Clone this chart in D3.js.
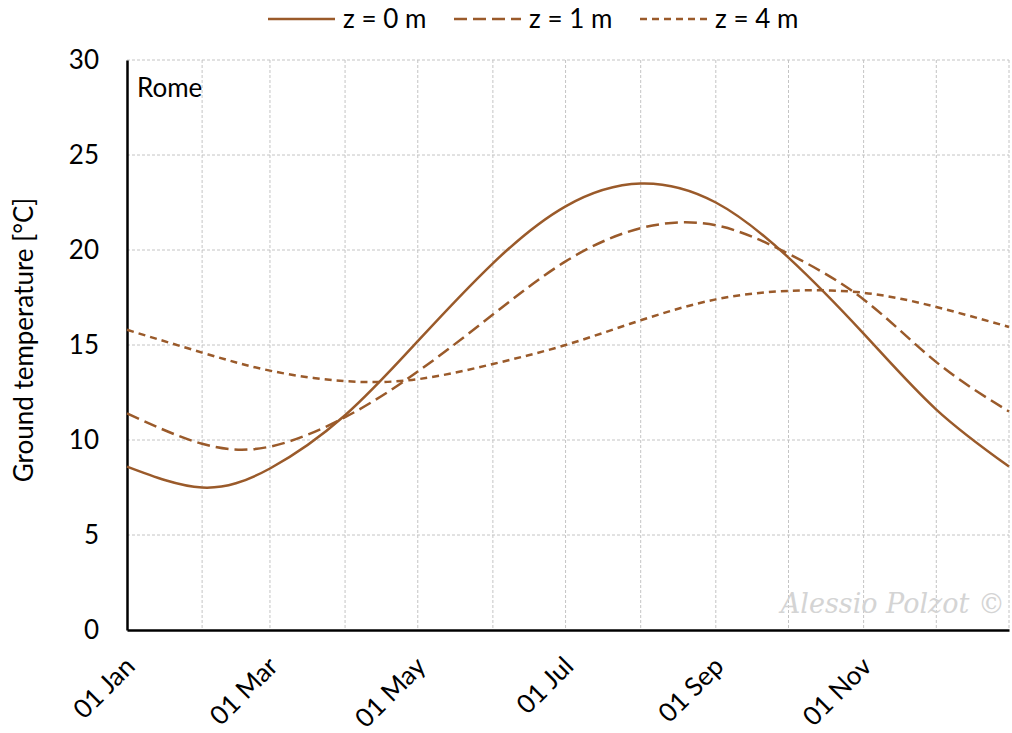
<!DOCTYPE html>
<html>
<head>
<meta charset="utf-8">
<script src="https://cdn.jsdelivr.net/npm/d3@7"></script>
<style>
  body { margin: 0; background: #fff; }
  text { font-family: Lato, "Noto Sans", sans-serif; fill: #000; }
</style>
</head>
<body>
<div id="chart"></div>
<script>
// sample dates (month starts + year end)
const dates = ["2021-01-01","2021-02-01","2021-03-01","2021-04-01","2021-05-01","2021-06-01",
  "2021-07-01","2021-08-01","2021-09-01","2021-10-01","2021-11-01","2021-12-01","2021-12-31"];
// ground temperature [°C] at depth z
const z0 = [8.6, 7.5, 8.5, 11.3, 15.2, 19.3, 22.3, 23.5, 22.5, 19.6, 15.6, 11.6, 8.6];
const z1 = [11.4, 9.8, 9.65, 11.2, 13.6, 16.6, 19.4, 21.15, 21.3, 19.8, 17.4, 14.1, 11.5];
const z4 = [15.8, 14.6, 13.65, 13.1, 13.2, 14.0, 15.0, 16.3, 17.4, 17.85, 17.75, 17.0, 15.95];
const seriesNames = ["z = 0 m", "z = 1 m", "z = 4 m"];
const yTicks = [0, 5, 10, 15, 20, 25, 30];
const xLabels = ["2021-01-01","2021-03-01","2021-05-01","2021-07-01","2021-09-01","2021-11-01"];

const W = 1012, H = 733;
const m = {left: 127, right: 1009, top: 60, bottom: 630};
const brown = "#9a5a2a";
const dashes = [null, "13,6", "7,5"];
const fs = "26px";

const parse = d3.timeParse("%Y-%m-%d");
const x = d3.scaleTime().domain([parse("2021-01-01"), parse("2021-12-31")]).range([m.left, m.right]);
const y = d3.scaleLinear().domain([0, 30]).range([m.bottom, m.top]);

const svg = d3.select("#chart").append("svg").attr("width", W).attr("height", H);

// grid
const months = d3.timeMonth.range(parse("2021-01-01"), parse("2021-12-02")).concat([parse("2021-12-31")]);
svg.append("g").selectAll("line").data(months.slice(1)).join("line")
  .attr("x1", d => x(d)).attr("x2", d => x(d)).attr("y1", m.top).attr("y2", m.bottom)
  .attr("stroke", "#c4c4c4").attr("stroke-dasharray", "3,2").attr("stroke-width", 1);
svg.append("g").selectAll("line").data(yTicks.slice(1)).join("line")
  .attr("x1", m.left).attr("x2", m.right).attr("y1", d => y(d)).attr("y2", d => y(d))
  .attr("stroke", "#c4c4c4").attr("stroke-dasharray", "3,2").attr("stroke-width", 1);

// watermark
svg.append("text").attr("x", 1005).attr("y", 613).attr("text-anchor", "end")
  .style("font-family", "'DejaVu Serif', serif").style("font-style", "italic")
  .style("font-size", "27px").style("fill", "#d4d4d4").text("Alessio Polzot ©");

// y axis
const yAxis = svg.append("g").attr("transform", `translate(${m.left},0)`)
  .call(d3.axisLeft(y).tickValues(yTicks).tickSize(0).tickPadding(28));
yAxis.select(".domain").attr("stroke", "#000").attr("stroke-width", 2.5);
yAxis.selectAll("text").style("font-size", fs);

// x axis
const xAxis = svg.append("g").attr("transform", `translate(0,${m.bottom})`)
  .call(d3.axisBottom(x).tickValues(xLabels.map(parse)).tickSize(0).tickFormat(d3.timeFormat("%d %b")));
xAxis.select(".domain").attr("stroke", "#000").attr("stroke-width", 2.5);
xAxis.selectAll("text").style("font-size", fs)
  .attr("text-anchor", "end").attr("dy", null).attr("y", 0)
  .attr("transform", "translate(9,38) rotate(-45)");

// y title
svg.append("text").attr("transform", "translate(33,340) rotate(-90)")
  .attr("text-anchor", "middle").style("font-size", fs).text("Ground temperature [°C]");

// Rome label
svg.append("text").attr("x", 137).attr("y", 97).style("font-size", fs).text("Rome");

// lines
const line = d3.line().x((d, i) => x(parse(dates[i]))).y(d => y(d)).curve(d3.curveNatural);
[z0, z1, z4].forEach((s, i) => {
  svg.append("path").datum(s).attr("d", line).attr("fill", "none")
    .attr("stroke", brown).attr("stroke-width", 2.5)
    .attr("stroke-dasharray", dashes[i]);
});

// legend
const legX = [268, 454, 640];
seriesNames.forEach((n, i) => {
  const g = svg.append("g").attr("transform", `translate(${legX[i]},19)`);
  g.append("line").attr("x1", 0).attr("x2", 67).attr("stroke", brown).attr("stroke-width", 2.5)
    .attr("stroke-dasharray", dashes[i]);
  g.append("text").attr("x", 75).attr("dy", "0.35em").style("font-size", fs).text(n);
});
</script>
</body>
</html>
